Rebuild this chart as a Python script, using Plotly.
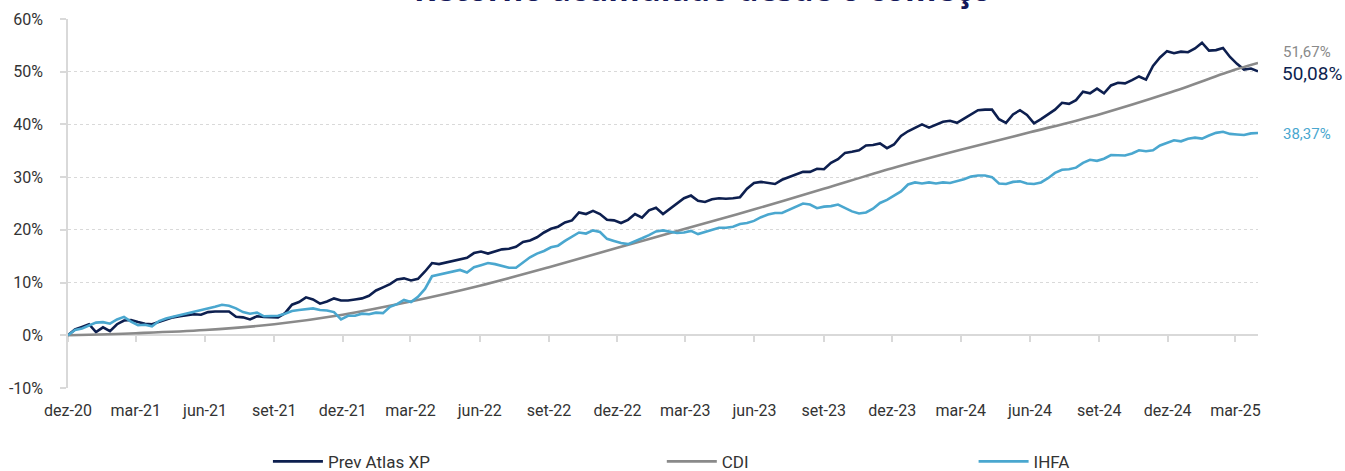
import plotly.graph_objects as go
import pandas as pd

# ---------------- data ----------------
start_date = "2020-12-01"
end_date = "2025-03-31"

prev_atlas = [
    0.0, 1.1, 1.6, 2.1, 0.6, 1.5, 0.8, 2.1, 2.8, 2.9,
    2.5, 2.2, 2.1, 2.5, 2.9, 3.4, 3.6, 3.8, 4.0, 3.9,
    4.4, 4.5, 4.5, 4.5, 3.5, 3.4, 3.0, 3.6, 3.5, 3.4,
    3.4, 4.2, 5.8, 6.3, 7.2, 6.8, 6.0, 6.4, 7.0, 6.6,
    6.6, 6.8, 7.0, 7.5, 8.5, 9.1, 9.7, 10.6, 10.8, 10.4,
    10.7, 12.1, 13.7, 13.5, 13.8, 14.2, 14.5, 14.7, 15.6, 15.9,
    15.5, 15.9, 16.3, 16.4, 16.8, 17.7, 18.0, 18.6, 19.5, 20.2,
    20.6, 21.4, 21.8, 23.3, 23.0, 23.6, 23.0, 21.9, 21.8, 21.3,
    21.9, 23.0, 22.3, 23.7, 24.2, 23.0, 24.0, 25.1, 26.0, 26.5,
    25.5, 25.3, 25.8, 26.0, 25.9, 26.0, 26.2, 27.8, 28.9, 29.1,
    28.9, 28.7, 29.5, 30.0, 30.5, 31.0, 31.0, 31.6, 31.5, 32.7,
    33.4, 34.6, 34.8, 35.1, 36.0, 36.1, 36.4, 35.5, 36.2, 37.8,
    38.7, 39.3, 40.0, 39.4, 40.0, 40.5, 40.7, 40.3, 41.1, 41.9,
    42.7, 42.8, 42.8, 41.0, 40.3, 41.9, 42.7, 41.8, 40.2, 41.0,
    41.9, 42.8, 44.1, 43.9, 44.6, 46.2, 45.9, 46.8, 45.9, 47.4,
    47.9, 47.8, 48.4, 49.1, 48.5, 51.1, 52.7, 53.9, 53.5, 53.8,
    53.7, 54.4, 55.5, 54.0, 54.1, 54.5, 52.8, 51.5, 50.4, 50.6,
    50.08,
]

ihfa = [
    0.0, 1.0, 1.3, 1.8, 2.4, 2.5, 2.2, 3.0, 3.5, 2.6,
    1.9, 2.0, 1.7, 2.7, 3.2, 3.5, 3.8, 4.1, 4.5, 4.8,
    5.1, 5.4, 5.8, 5.6, 5.1, 4.4, 4.1, 4.3, 3.6, 3.7,
    3.7, 4.1, 4.6, 4.8, 4.9, 5.1, 4.8, 4.7, 4.4, 3.0,
    3.7, 3.7, 4.1, 4.0, 4.3, 4.2, 5.4, 5.9, 6.7, 6.3,
    7.3, 8.8, 11.2, 11.5, 11.9, 12.1, 12.4, 11.9, 12.9, 13.3,
    13.7, 13.5, 13.1, 12.8, 12.8, 13.8, 14.8, 15.5, 16.0, 16.7,
    17.0, 17.9, 18.7, 19.5, 19.3, 19.9, 19.6, 18.3, 17.9, 17.5,
    17.3, 17.8, 18.4, 19.0, 19.7, 19.9, 19.7, 19.4, 19.5, 19.8,
    19.2, 19.6, 19.9, 20.4, 20.4, 20.6, 21.1, 21.3, 21.7, 22.4,
    22.9, 23.2, 23.2, 23.8, 24.5, 25.0, 24.8, 24.1, 24.4, 24.5,
    24.8, 24.2, 23.5, 23.1, 23.3, 24.0, 25.1, 25.7, 26.5, 27.3,
    28.6, 29.0, 28.8, 29.0, 28.8, 29.0, 28.9, 29.2, 29.6, 30.1,
    30.3, 30.3, 30.0, 28.8, 28.7, 29.1, 29.2, 28.8, 28.7, 29.0,
    29.8, 30.8, 31.4, 31.5, 31.8, 32.7, 33.3, 33.1, 33.5, 34.2,
    34.2, 34.1, 34.5, 35.1, 34.9, 35.1, 36.0, 36.5, 37.0, 36.8,
    37.3, 37.5, 37.3, 37.9, 38.4, 38.6, 38.2, 38.1, 38.0, 38.3,
    38.37,
]

cdi_dates = [
    "2020-12-01", "2021-03-01", "2021-06-01", "2021-09-01", "2021-12-01",
    "2022-03-01", "2022-06-01", "2022-09-01", "2022-12-01", "2023-03-01",
    "2023-06-01", "2023-09-01", "2023-12-01", "2024-03-01", "2024-06-01",
    "2024-09-01", "2024-12-01", "2025-03-01", "2025-03-31",
]
cdi = [
    0.0, 0.4, 1.0, 2.1, 3.9, 6.4, 9.4, 12.9, 16.6, 20.2,
    23.9, 27.8, 31.7, 35.2, 38.5, 41.9, 45.9, 50.4, 51.67,
]

tick_dates = cdi_dates[:-1]
tick_labels = [
    "dez-20", "mar-21", "jun-21", "set-21", "dez-21", "mar-22", "jun-22",
    "set-22", "dez-22", "mar-23", "jun-23", "set-23", "dez-23", "mar-24",
    "jun-24", "set-24", "dez-24", "mar-25",
]
y_tick_vals = [-10, 0, 10, 20, 30, 40, 50, 60]
y_tick_labels = ["-10%", "0%", "10%", "20%", "30%", "40%", "50%", "60%"]

series_names = ["Prev Atlas XP", "CDI", "IHFA"]
end_labels = ["50,08%", "51,67%", "38,37%"]
title_text = "Retorno acumulado desde o começo"

# ---------------- styles ----------------
NAVY = "#0d1f4f"
GRAY = "#8a8a8a"
BLUE = "#4aa7cf"
GRID = "#d9d9d9"
TEXT = "#333333"
FONT = "Roboto"

dates = pd.date_range(start_date, end_date, periods=len(prev_atlas))

fig = go.Figure()
fig.add_trace(go.Scatter(x=dates, y=prev_atlas, name=series_names[0], mode="lines",
                         line=dict(color=NAVY, width=2.6), legend="legend"))
fig.add_trace(go.Scatter(x=cdi_dates, y=cdi, name=series_names[1], mode="lines",
                         line=dict(color=GRAY, width=2.6, shape="spline"), legend="legend2"))
fig.add_trace(go.Scatter(x=dates, y=ihfa, name=series_names[2], mode="lines",
                         line=dict(color=BLUE, width=2.6), legend="legend3"))
# helper trace so the zero-crossing axis (x2) is drawn
fig.add_trace(go.Scatter(x=[dates[0]], y=[0], xaxis="x2", mode="markers",
                         marker=dict(opacity=0), showlegend=False, hoverinfo="skip"))

# end labels
fig.add_annotation(x=dates[-1], y=prev_atlas[-1], text=end_labels[0], showarrow=False,
                   xanchor="left", yanchor="middle", xshift=22, yshift=-2,
                   font=dict(family=FONT, size=19, color=NAVY))
fig.add_annotation(x=cdi_dates[-1], y=cdi[-1], text=end_labels[1], showarrow=False,
                   xanchor="left", yanchor="middle", xshift=23, yshift=11,
                   font=dict(family=FONT, size=15, color=GRAY))
fig.add_annotation(x=dates[-1], y=ihfa[-1], text=end_labels[2], showarrow=False,
                   xanchor="left", yanchor="middle", xshift=23, yshift=-1,
                   font=dict(family=FONT, size=15, color=BLUE))

# clipped title at top
fig.add_annotation(x=0.5336, y=1.082, xref="paper", yref="paper", text="<b>" + title_text + "</b>",
                   showarrow=False, xanchor="center", yanchor="middle",
                   font=dict(family="Open Sans", size=32, color="#15185a"))

legend_common = dict(orientation="h", xanchor="left", yanchor="middle", y=-0.2,
                     bgcolor="rgba(0,0,0,0)", font=dict(family=FONT, size=17, color=TEXT),
                     itemwidth=50)

fig.update_layout(
    width=1345, height=471,
    margin=dict(l=68, r=87, t=19, b=83, autoexpand=False),
    plot_bgcolor="white", paper_bgcolor="white",
    font=dict(family=FONT, color=TEXT),
    legend=dict(x=0.168, **legend_common),
    legend2=dict(x=0.499, **legend_common),
    legend3=dict(x=0.761, **legend_common),
    xaxis=dict(range=[start_date, end_date], tickvals=tick_dates, ticktext=tick_labels,
               showgrid=False, zeroline=False, showline=False, ticks="",
               tickfont=dict(family=FONT, size=16, color=TEXT), ticklabelstandoff=11),
    xaxis2=dict(overlaying="x", matches="x", anchor="free", position=1 / 7, side="bottom",
                tickvals=tick_dates, showticklabels=False, ticks="outside", ticklen=6,
                tickcolor=GRID, tickwidth=1.5, showline=True, linecolor=GRID, linewidth=1.5,
                showgrid=False, zeroline=False, layer="below traces"),
    yaxis=dict(range=[-10, 60], tickvals=y_tick_vals, ticktext=y_tick_labels,
               showgrid=True, gridcolor=GRID, griddash="dot", gridwidth=1.3,
               zeroline=False, showline=True, linecolor=GRID, linewidth=1.5,
               ticks="outside", ticklen=6, tickcolor=GRID, tickwidth=1.5,
               tickfont=dict(family=FONT, size=16, color=TEXT), ticklabelstandoff=14),
    showlegend=True,
)

fig.write_html("out.html", config={"displayModeBar": False},
               post_script="document.body.style.margin='0px';")
